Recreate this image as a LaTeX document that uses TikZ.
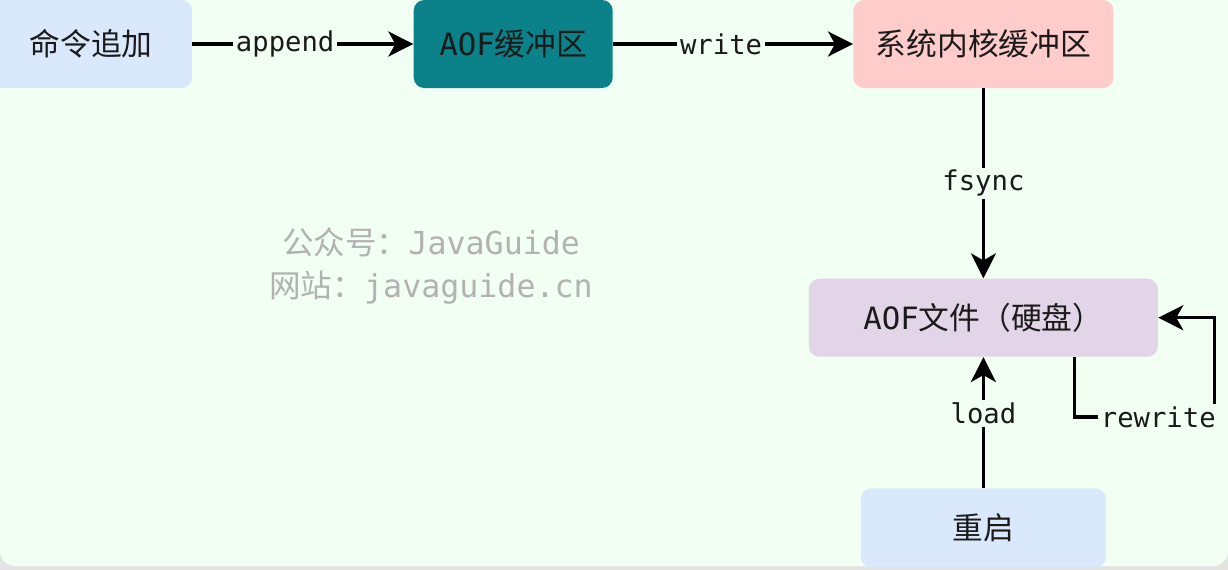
\documentclass[tikz,border=0pt]{standalone}
\usepackage{fontspec}
\setmainfont{DejaVu Sans Mono}
\newfontfamily\cjk{Noto Sans CJK SC}
\usepackage{tikz}
\usetikzlibrary{arrows.meta,positioning,backgrounds,calc}
\usepackage{xcolor}
\definecolor{mint}{HTML}{F2FFF3}
\definecolor{edgegray}{HTML}{E4E4E4}
\definecolor{srcblue}{HTML}{DAE8FC}
\definecolor{teal}{HTML}{0B8189}
\definecolor{kernpink}{HTML}{FECCCB}
\definecolor{diskpurple}{HTML}{E1D5E7}
\definecolor{inktxt}{HTML}{1A1A1A}

\begin{document}
\begin{tikzpicture}[
        node distance=3.8cm and 4.4cm,
        box/.style={rounded corners=6pt,minimum height=1.76cm,text=inktxt,font=\fontsize{17.5}{20}\selectfont,align=center,inner sep=0pt},
        src/.style={box,fill=srcblue},
        buf/.style={box,fill=teal},
        kern/.style={box,fill=kernpink},
        disk/.style={box,fill=diskpurple,minimum height=1.56cm},
        arr/.style={-{Stealth[length=5mm,width=5mm,inset=1.4mm]},line width=1.9pt},
        lbl/.style={fill=mint,inner sep=1.5pt,text=inktxt,font=\fontsize{15.5}{18}\selectfont},
        wm/.style={text=black!30,align=center,font=\fontsize{18}{24}\selectfont}
      ]
      % page and background
      \useasboundingbox (0,0) rectangle (24.56,-11.4);
      \fill[edgegray] (0,0) rectangle (24.56,-11.4);
      \fill[mint,rounded corners=0.3cm] (0,0.5) rectangle (24.56,-11.32);

      \node[src,minimum width=4.04cm] (cmd) at (1.82,-0.88) {\cjk 命令追加};
      \node[buf,minimum width=3.98cm,right=4.42cm of cmd] (aofbuf) {AOF{\cjk 缓冲区}};
      \node[kern,minimum width=5.2cm,right=4.8cm of aofbuf] (kernel) {\cjk 系统内核缓冲区};
      \node[disk,minimum width=6.98cm,below=3.8cm of kernel] (aoffile) {AOF{\cjk 文件（硬盘）}};
      \node[src,minimum width=4.9cm,minimum height=1.58cm,below=2.62cm of aoffile] (restart) {\cjk 重启};

      \node[wm] (wmark) at (8.62,-5.32) {{\cjk 公众号：}JavaGuide\\{\cjk 网站：}javaguide.cn};

      \coordinate (rwa) at ([xshift=-1.68cm,yshift=-1.2cm]aoffile.south east);
      \coordinate (rwb) at ([xshift=1.12cm,yshift=-1.2cm]aoffile.south east);

      \draw[arr] (cmd) -- node[lbl,pos=0.42]{append} (aofbuf);
      \draw[arr] (aofbuf) -- node[lbl,pos=0.45]{write} (kernel);
      \draw[arr] (kernel) -- node[lbl]{fsync} (aoffile);
      \draw[arr] (restart) -- node[lbl,pos=0.57]{load} (aoffile);
      \draw[arr] ([xshift=-1.68cm]aoffile.south east) -- (rwa) -- node[lbl,pos=0.6]{rewrite} (rwb) |- (aoffile.east);
    \end{tikzpicture}
\end{document}
